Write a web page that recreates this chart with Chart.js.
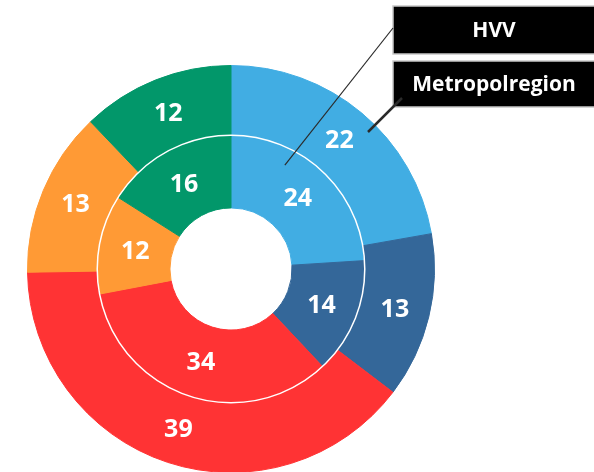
<!DOCTYPE html>
<html>
<head>
<meta charset="utf-8">
<script src="https://cdn.jsdelivr.net/npm/chart.js@4/dist/chart.umd.min.js"></script>
<style>
  html, body { margin: 0; padding: 0; background: #fff; overflow: hidden; }
  #wrap { position: relative; width: 594px; height: 472px; overflow: hidden; }
</style>
</head>
<body>
<div id="wrap"><canvas id="ringChart" width="594" height="480" style="width:594px;height:480px"></canvas></div>
<script>
// Data
const categories = ['A', 'B', 'C', 'D', 'E'];
const metropolregion = [22, 13, 39, 13, 12]; // outer ring
const hvv = [24, 14, 34, 12, 16];            // inner ring
const colors = ['#41ade3', '#346799', '#ff3334', '#ff9a35', '#02976a'];

const seriesNames = ['HVV', 'Metropolregion'];

// value labels in the middle of every slice
const sliceLabels = {
    id: 'sliceLabels',
    afterDatasetsDraw(chart) {
        const ctx = chart.ctx;
        // white circle between the two rings
        const innerMeta = chart.getDatasetMeta(1);
        const a0 = innerMeta.data[0];
        ctx.save();
        ctx.beginPath();
        ctx.arc(a0.x, a0.y, a0.outerRadius, 0, Math.PI * 2);
        ctx.strokeStyle = '#ffffff';
        ctx.lineWidth = 1.5;
        ctx.stroke();

        ctx.fillStyle = '#ffffff';
        ctx.font = 'bold 25px "Open Sans", sans-serif';
        ctx.textAlign = 'center';
        ctx.textBaseline = 'middle';
        chart.data.datasets.forEach((ds, i) => {
            chart.getDatasetMeta(i).data.forEach((arc, j) => {
                const p = arc.tooltipPosition();
                ctx.fillText(String(ds.data[j]), p.x, p.y + 1);
            });
        });
        ctx.restore();
    }
};

// the two black name boxes with their leader lines
const callouts = {
    id: 'callouts',
    afterDraw(chart) {
        const ctx = chart.ctx;
        const boxes = [
            { text: seriesNames[0], x: 393, y: 6, w: 210, h: 48, ds: 1, fa: 0.317, fr: 0.77, lx: 393, ly: 28, lw: 1.2 },
            { text: seriesNames[1], x: 393, y: 61, w: 210, h: 46, ds: 0, fa: 0.5625, fr: 0.86, lx: 402, ly: 98, lw: 2.5 }
        ];
        ctx.save();
        boxes.forEach(b => {
            ctx.fillStyle = '#000000';
            ctx.fillRect(b.x, b.y, b.w, b.h);
            ctx.strokeStyle = '#c8c8c8';
            ctx.lineWidth = 1.5;
            ctx.strokeRect(b.x, b.y, b.w, b.h);
            ctx.fillStyle = '#ffffff';
            ctx.font = 'bold 21px "Open Sans", sans-serif';
            ctx.textAlign = 'center';
            ctx.textBaseline = 'middle';
            ctx.fillText(b.text, 494, b.y + b.h / 2 + 1);
        });
        boxes.forEach(b => {
            const arc = chart.getDatasetMeta(b.ds).data[0];
            const ang = arc.startAngle + b.fa * (arc.endAngle - arc.startAngle);
            const r = arc.innerRadius + b.fr * (arc.outerRadius - arc.innerRadius);
            ctx.beginPath();
            ctx.moveTo(arc.x + r * Math.cos(ang), arc.y + r * Math.sin(ang));
            ctx.lineTo(b.lx, b.ly);
            ctx.strokeStyle = '#2b2b2b';
            ctx.lineWidth = b.lw;
            ctx.stroke();
        });
        ctx.restore();
    }
};

const ctx = document.getElementById('ringChart').getContext('2d');
const ringChart = new Chart(ctx, {
    type: 'doughnut',
    data: {
        labels: categories,
        datasets: [{
            label: seriesNames[1],
            data: metropolregion,
            backgroundColor: colors,
            borderColor: colors,
            borderWidth: 1,
            weight: 70
        }, {
            label: seriesNames[0],
            data: hvv,
            backgroundColor: colors,
            borderColor: colors,
            borderWidth: 1,
            weight: 73
        }]
    },
    options: {
        responsive: false,
        animation: false,
        devicePixelRatio: 1,
        cutout: '30%',
        layout: {
            padding: { left: 27, top: 65, right: 159, bottom: 7 }
        },
        plugins: {
            legend: { display: false },
            tooltip: { enabled: false }
        }
    },
    plugins: [sliceLabels, callouts]
});
</script>
</body>
</html>
